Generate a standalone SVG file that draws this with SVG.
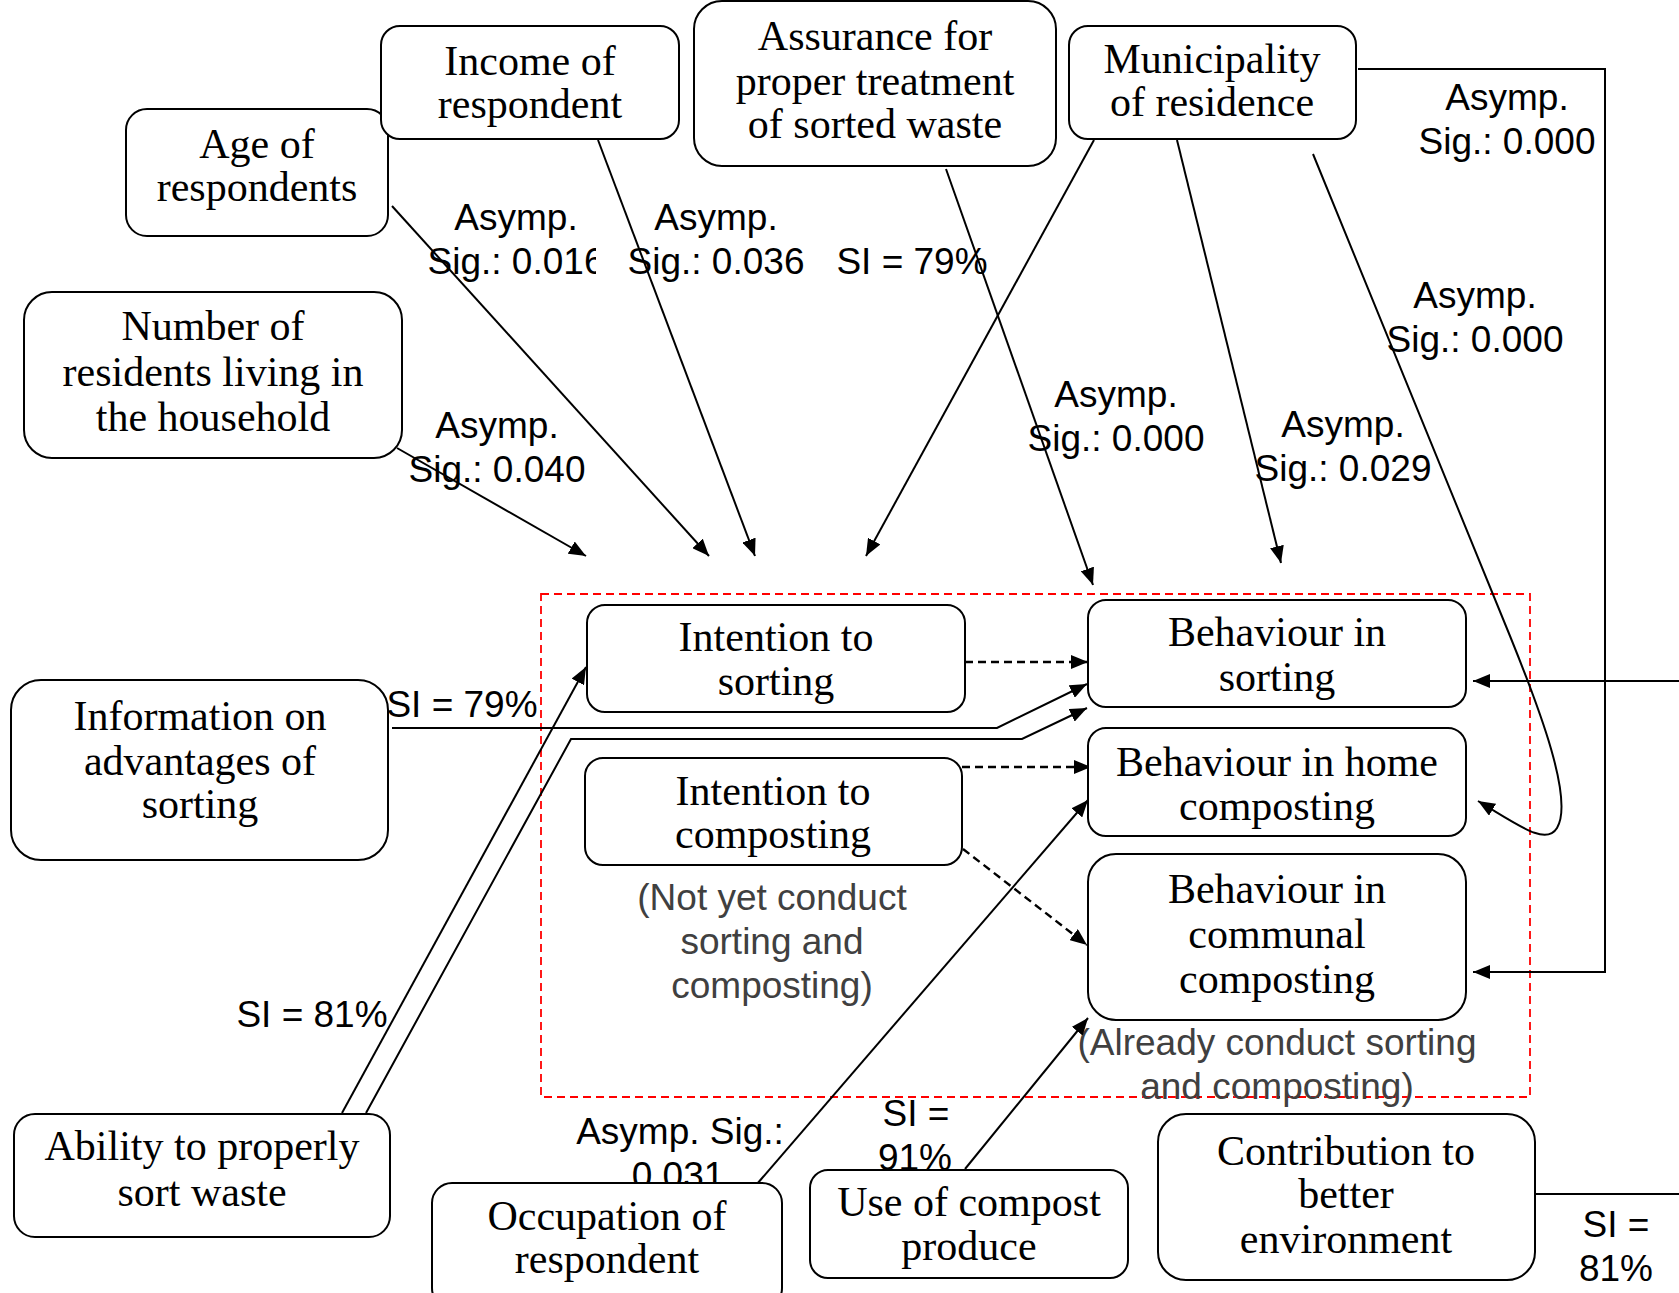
<svg xmlns="http://www.w3.org/2000/svg" width="1679" height="1293" viewBox="0 0 1679 1293">
<style>
.node rect{fill:#fff;stroke:#000;stroke-width:2}
.node text{font-family:"Liberation Serif","DejaVu Serif",serif;font-size:42px;fill:#000;text-anchor:middle}
.lbl{font-family:"Liberation Sans",Arial,sans-serif;font-size:37px;fill:#000;text-anchor:middle}
.gray{fill:#404040}
.conn path{fill:none;stroke:#000;stroke-width:2}
.conn .arr{marker-end:url(#ah)}
.conn .dash{stroke-dasharray:8 5;stroke-width:2.4}
.red{fill:none;stroke:#ff0000;stroke-width:1.8;stroke-dasharray:8 5}
</style>
<defs>
<marker id="ah" markerUnits="userSpaceOnUse" markerWidth="17" markerHeight="14" refX="17" refY="7" orient="auto">
<path d="M0,0 L17,7 L0,14 z" fill="#000"/>
</marker>
<clipPath id="clip016"><rect x="380" y="240" width="216" height="50"/></clipPath>
</defs>
<rect width="1679" height="1293" fill="#fff"/>

<rect class="red" x="541" y="594" width="989" height="503"/>

<g id="labels">
<text class="lbl" x="516" y="230">Asymp.</text>
<text class="lbl" x="516" y="274" clip-path="url(#clip016)">Sig.: 0.016</text>
<text class="lbl" x="716" y="230">Asymp.</text>
<text class="lbl" x="716" y="274">Sig.: 0.036</text>
<text class="lbl" x="912" y="274">SI = 79%</text>
<text class="lbl" x="497" y="438">Asymp.</text>
<text class="lbl" x="497" y="482">Sig.: 0.040</text>
<text class="lbl" x="1116" y="407">Asymp.</text>
<text class="lbl" x="1116" y="451">Sig.: 0.000</text>
<text class="lbl" x="1343" y="437">Asymp.</text>
<text class="lbl" x="1343" y="481">Sig.: 0.029</text>
<text class="lbl" x="1475" y="308">Asymp.</text>
<text class="lbl" x="1475" y="352">Sig.: 0.000</text>
<text class="lbl" x="1507" y="110">Asymp.</text>
<text class="lbl" x="1507" y="154">Sig.: 0.000</text>
<text class="lbl" x="462" y="717">SI = 79%</text>
<text class="lbl" x="312" y="1027">SI = 81%</text>
<text class="lbl" x="680" y="1144">Asymp. Sig.:</text>
<text class="lbl" x="678" y="1188">0.031</text>
<text class="lbl" x="916" y="1126">SI =</text>
<text class="lbl" x="915" y="1170">91%</text>
<text class="lbl" x="1616" y="1237">SI =</text>
<text class="lbl" x="1616" y="1281">81%</text>
<text class="lbl gray" x="772" y="910">(Not yet conduct</text>
<text class="lbl gray" x="772" y="954">sorting and</text>
<text class="lbl gray" x="772" y="998">composting)</text>
<text class="lbl gray" x="1277" y="1055">(Already conduct sorting</text>
<text class="lbl gray" x="1277" y="1099">and composting)</text>
</g>

<g id="connectors" class="conn">
<path class="arr" d="M392,206 L709,556"/>
<path class="arr" d="M598,140 L755,556"/>
<path class="arr" d="M397,448 L586,556"/>
<path class="arr" d="M946,169 L1093,585"/>
<path class="arr" d="M1094,140 L866,556"/>
<path class="arr" d="M1177,140 L1281,563"/>
<path class="arr" d="M1313,154 L1510,636 C1540,710 1574,800 1557,828 C1546,846 1520,826 1478,801"/>
<path class="arr" d="M1358,69 H1605 V972 H1473"/>
<path class="arr" d="M392,728 H997 L1087,684"/>
<path class="arr" d="M342,1113 L586,667"/>
<path class="arr" d="M366,1113 L571,739 H1022 L1087,708"/>
<path class="arr dash" d="M965,662 H1088"/>
<path class="arr dash" d="M962,767 H1091"/>
<path class="arr dash" d="M963,849 L1087,945"/>
<path class="arr" d="M757,1184 L1088,800"/>
<path class="arr" d="M965,1169 L1088,1018"/>
<path class="arr" d="M1535,1194 H1700 V681 H1473"/>
</g>

<g id="n-age" class="node"><rect x="126" y="109" width="262" height="127" rx="21"/><text x="257" y="158">Age of</text><text x="257" y="201">respondents</text></g>
<g id="n-income" class="node"><rect x="381" y="26" width="298" height="113" rx="19"/><text x="530" y="75">Income of</text><text x="530" y="118">respondent</text></g>
<g id="n-assurance" class="node"><rect x="694" y="1" width="362" height="165" rx="28"/><text x="875" y="50">Assurance for</text><text x="875" y="95">proper treatment</text><text x="875" y="138">of sorted waste</text></g>
<g id="n-municipality" class="node"><rect x="1069" y="26" width="287" height="113" rx="19"/><text x="1212" y="73">Municipality</text><text x="1212" y="116">of residence</text></g>
<g id="n-number" class="node"><rect x="24" y="292" width="378" height="166" rx="28"/><text x="213" y="340">Number of</text><text x="213" y="386">residents living in</text><text x="213" y="431">the household</text></g>
<g id="n-information" class="node"><rect x="11" y="680" width="377" height="180" rx="30"/><text x="200" y="730">Information on</text><text x="200" y="775">advantages of</text><text x="200" y="818">sorting</text></g>
<g id="n-int-sort" class="node"><rect x="587" y="605" width="378" height="107" rx="18"/><text x="776" y="651">Intention to</text><text x="776" y="695">sorting</text></g>
<g id="n-int-comp" class="node"><rect x="585" y="758" width="377" height="107" rx="18"/><text x="773" y="805">Intention to</text><text x="773" y="848">composting</text></g>
<g id="n-beh-sort" class="node"><rect x="1088" y="600" width="378" height="107" rx="18"/><text x="1277" y="646">Behaviour in</text><text x="1277" y="691">sorting</text></g>
<g id="n-beh-home" class="node"><rect x="1088" y="728" width="378" height="108" rx="18"/><text x="1277" y="776">Behaviour in home</text><text x="1277" y="820">composting</text></g>
<g id="n-beh-comm" class="node"><rect x="1088" y="854" width="378" height="166" rx="28"/><text x="1277" y="903">Behaviour in</text><text x="1277" y="948">communal</text><text x="1277" y="993">composting</text></g>
<g id="n-ability" class="node"><rect x="14" y="1114" width="376" height="123" rx="21"/><text x="202" y="1160">Ability to properly</text><text x="202" y="1206">sort waste</text></g>
<g id="n-occupation" class="node"><rect x="432" y="1183" width="350" height="125" rx="20"/><text x="607" y="1230">Occupation of</text><text x="607" y="1273">respondent</text></g>
<g id="n-compost" class="node"><rect x="810" y="1170" width="318" height="108" rx="18"/><text x="969" y="1216">Use of compost</text><text x="969" y="1260">produce</text></g>
<g id="n-contribution" class="node"><rect x="1158" y="1114" width="377" height="166" rx="28"/><text x="1346" y="1165">Contribution to</text><text x="1346" y="1208">better</text><text x="1346" y="1253">environment</text></g>
</svg>
